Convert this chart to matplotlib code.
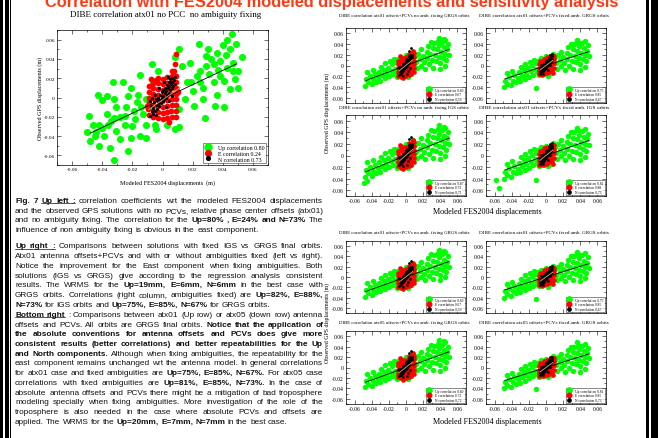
import matplotlib
matplotlib.use("Agg")
import matplotlib.pyplot as plt
from matplotlib.patches import Rectangle
from matplotlib.lines import Line2D
from matplotlib.ticker import MultipleLocator
import numpy as np

plt.rcParams['axes.unicode_minus'] = False

W, H = 658, 439
SERIF = 'Liberation Serif'
SANS = 'Liberation Sans'
GREEN, RED, TAN = '#00ff00', '#ff0000', '#c8b27a'

TICKS = [-0.06, -0.04, -0.02, 0, 0.02, 0.04, 0.06]
TICK_LABELS = ['-0.06', '-0.04', '-0.02', '0', '0.02', '0.04', '0.06']

# ---- main panel (atx01, no PCC, no ambiguity fixing) ----
MAIN_UP = [(0.046, 0.066), (0.043, 0.060), (0.040, 0.054), (0.045, 0.050), (0.049, 0.055), (0.024, 0.055),
           (0.030, 0.050), (0.036, 0.046), (0.038, 0.038), (0.053, 0.042), (0.034, 0.035), (0.029, 0.033),
           (0.025, 0.028), (0.043, 0.031), (0.047, 0.036), (0.050, 0.028), (0.048, 0.019), (0.045, 0.009),
           (0.050, 0.010), (0.038, 0.022), (0.034, 0.016), (0.027, 0.010), (0.020, 0.007), (0.023, 0.022),
           (0.018, 0.036), (0.013, 0.033), (0.016, 0.016), (0.021, -0.009), (0.035, -0.009), (0.041, -0.010),
           (0.028, -0.021), (0.027, -0.002), (0.036, 0.003), (0.011, 0.050), (0.008, 0.042), (0.029, 0.043),
           (0.041, 0.017), (0.015, -0.002), (0.009, 0.009), (0.011, -0.012), (0.011, -0.031), (0.019, 0.016),
           (0.025, 0.016), (0.037, 0.029), (0.031, 0.024), (0.047, 0.028), (0.032, 0.040), (0.042, 0.044),
           (-0.007, 0.035), (-0.015, 0.023), (-0.026, 0.016), (-0.033, 0.016), (-0.021, 0.010), (-0.043, 0.003),
           (-0.037, 0.002), (-0.040, -0.003), (-0.032, -0.002), (-0.023, 0.002), (-0.016, 0.003), (-0.031, -0.010),
           (-0.024, -0.010), (-0.017, -0.005), (-0.011, -0.002), (-0.037, -0.017), (-0.032, -0.021), (-0.025, -0.019),
           (-0.042, -0.029), (-0.036, -0.029), (-0.044, -0.036), (-0.039, -0.040), (-0.031, -0.035), (-0.025, -0.028),
           (-0.018, -0.022), (-0.013, -0.017), (-0.005, -0.028), (-0.011, -0.029), (-0.048, -0.045), (-0.042, -0.050),
           (-0.035, -0.052), (-0.032, -0.065), (-0.023, -0.055), (-0.028, -0.043), (-0.021, -0.042), (-0.015, -0.040),
           (-0.011, -0.042), (-0.050, -0.036), (-0.046, -0.028), (-0.004, -0.033), (0.003, -0.028), (0.008, -0.033),
           (-0.049, -0.019), (-0.019, -0.014), (-0.007, -0.010), (-0.006, 0.016), (-0.003, 0.028), (-0.045, -0.040),
           (-0.040, -0.032), (-0.034, -0.024), (-0.028, -0.020), (-0.020, -0.030), (-0.014, -0.010)]
MAIN_E = [(-0.009, -0.018), (-0.0095, -0.012), (-0.009, -0.006), (-0.0092, 0.000), (-0.0088, 0.006), (-0.009, 0.012),
          (-0.006, -0.020), (-0.0062, -0.014), (-0.006, -0.008), (-0.0058, -0.002), (-0.006, 0.004), (-0.0061, 0.010),
          (-0.006, 0.015), (-0.0075, 0.019), (-0.003, -0.021), (-0.0031, -0.015), (-0.003, -0.009), (-0.0028, -0.003),
          (-0.003, 0.003), (-0.0032, 0.009), (-0.003, 0.015), (-0.0029, 0.020), (0.000, -0.022), (0.0002, -0.016),
          (0.000, -0.010), (-0.0001, -0.004), (0.000, 0.002), (0.0001, 0.008), (0.000, 0.014), (0.0002, 0.019),
          (0.003, -0.021), (0.0031, -0.015), (0.003, -0.009), (0.0029, -0.003), (0.003, 0.003), (0.0032, 0.009),
          (0.003, 0.015), (0.0031, 0.021), (0.006, -0.020), (0.0059, -0.014), (0.006, -0.008), (0.0061, -0.002),
          (0.006, 0.004), (0.0058, 0.010), (0.006, 0.016), (0.0062, 0.022), (0.006, 0.027), (0.009, -0.020),
          (0.0091, -0.014), (0.009, -0.008), (0.0089, -0.002), (0.009, 0.004), (0.0092, 0.010), (0.009, 0.016),
          (0.0088, 0.022), (0.008, 0.035), (0.009, 0.045), (-0.0102, -0.009), (0.0102, 0.006), (0.0045, -0.025),
          (-0.0045, 0.018), (0.0075, 0.028)]
MAIN_N = [(-0.008, -0.019), (-0.007, -0.014), (-0.0075, -0.009), (-0.006, -0.017), (-0.006, -0.011), (-0.0055, -0.005),
          (-0.005, -0.014), (-0.0045, -0.008), (-0.004, -0.002), (-0.0035, -0.012), (-0.003, -0.006), (-0.003, 0.000),
          (-0.002, -0.009), (-0.002, -0.003), (-0.0015, 0.003), (-0.001, -0.006), (-0.0005, 0.000), (-0.0005, 0.006),
          (0.000, -0.004), (0.0005, 0.002), (0.0005, 0.008), (0.001, -0.002), (0.0015, 0.005), (0.0015, 0.010),
          (0.002, 0.000), (0.0025, 0.007), (0.003, 0.013), (0.003, 0.003), (0.0035, 0.010), (0.004, 0.016),
          (0.004, 0.005), (0.0045, 0.012), (0.005, 0.019), (0.005, 0.008), (0.0055, 0.014), (0.006, 0.020),
          (0.006, 0.010), (0.0065, 0.016), (0.007, 0.012), (0.0075, 0.018), (0.008, 0.014), (0.008, 0.021),
          (-0.0085, -0.004), (-0.007, -0.001), (-0.005, 0.003), (0.002, -0.010), (0.004, -0.004), (0.006, 0.002),
          (0.0035, 0.021), (-0.002, 0.010), (-0.004, -0.018), (0.001, 0.016)]
MAIN_LABELS = ['Up correlation 0.80', 'E correlation 0.24', 'N correlation 0.73']
# regression lines: (x start, x end, slope, intercept, colour)
MAIN_FITS = [(-0.048, 0.049, 0.74, -0.0015, 'black'), (-0.009, 0.012, 1.1, -0.0025, TAN)]

# ---- small panels, no ambiguity fixing ----
NOFIX_UP = [(-0.048, -0.038), (-0.047, -0.025), (-0.044, -0.031), (-0.042, -0.020), (-0.040, -0.035), (-0.038, -0.026),
            (-0.036, -0.016), (-0.035, -0.030), (-0.033, -0.022), (-0.031, -0.012), (-0.030, -0.028), (-0.028, -0.018),
            (-0.026, -0.008), (-0.025, -0.024), (-0.023, -0.014), (-0.021, -0.004), (-0.020, -0.020), (-0.018, -0.010),
            (-0.016, 0.002), (-0.015, -0.016), (-0.013, -0.006), (-0.012, 0.006), (-0.011, -0.022), (-0.010, -0.012),
            (-0.009, 0.012), (-0.045, -0.012), (-0.039, -0.008), (-0.029, -0.002), (-0.024, 0.004), (-0.019, 0.008),
            (-0.014, 0.012), (0.010, 0.018), (0.012, 0.006), (0.013, -0.004), (0.014, 0.022), (0.016, 0.012),
            (0.017, 0.000), (0.018, 0.030), (0.020, 0.018), (0.021, 0.006), (0.022, -0.006), (0.024, 0.026),
            (0.025, 0.014), (0.026, 0.036), (0.027, 0.002), (0.028, 0.022), (0.030, 0.010), (0.031, 0.032),
            (0.032, -0.004), (0.033, 0.042), (0.034, 0.020), (0.035, 0.008), (0.036, 0.030), (0.037, 0.046),
            (0.038, 0.016), (0.039, 0.038), (0.040, 0.004), (0.041, 0.026), (0.042, 0.044), (0.043, 0.014),
            (0.044, 0.034), (0.045, 0.022), (0.046, 0.048), (0.047, 0.010), (0.048, 0.030), (0.049, 0.040),
            (0.050, 0.020), (0.029, 0.044), (0.038, 0.052), (0.044, 0.050), (0.040, -0.006), (0.046, 0.000),
            (-0.008, -0.020), (0.008, 0.026), (-0.006, 0.016), (0.006, -0.016), (0.000, 0.020), (0.002, -0.022)]
NOFIX_E = [(-0.009, -0.019), (-0.0095, -0.012), (-0.009, -0.005), (-0.0092, 0.002), (-0.0088, 0.008),
           (-0.006, -0.021), (-0.0062, -0.014), (-0.006, -0.007), (-0.0058, 0.000), (-0.006, 0.007), (-0.0061, 0.013),
           (-0.003, -0.021), (-0.0031, -0.014), (-0.003, -0.007), (-0.0028, 0.000), (-0.003, 0.007), (-0.0032, 0.014),
           (0.000, -0.020), (0.0002, -0.013), (0.000, -0.006), (-0.0001, 0.001), (0.000, 0.008), (0.0001, 0.015),
           (0.003, -0.018), (0.0031, -0.011), (0.003, -0.004), (0.0029, 0.003), (0.003, 0.010), (0.0032, 0.017),
           (0.006, -0.016), (0.0059, -0.009), (0.006, -0.002), (0.0061, 0.005), (0.006, 0.012), (0.0058, 0.019),
           (0.009, -0.012), (0.0091, -0.005), (0.009, 0.002), (0.0089, 0.009), (0.009, 0.016), (0.0092, 0.023),
           (0.0085, 0.027), (0.0065, 0.024), (-0.0065, 0.018), (0.0035, 0.022), (-0.0035, -0.024)]
NOFIX_N = [(-0.008, -0.017), (-0.007, -0.012), (-0.0075, -0.007), (-0.006, -0.015), (-0.006, -0.009), (-0.0055, -0.003),
           (-0.005, -0.012), (-0.0045, -0.006), (-0.004, 0.000), (-0.0035, -0.010), (-0.003, -0.004), (-0.003, 0.002),
           (-0.002, -0.007), (-0.002, -0.001), (-0.0015, 0.005), (-0.001, -0.004), (-0.0005, 0.002), (-0.0005, 0.008),
           (0.000, -0.002), (0.0005, 0.004), (0.0005, 0.010), (0.001, 0.000), (0.0015, 0.007), (0.0015, 0.012),
           (0.002, 0.002), (0.0025, 0.009), (0.003, 0.015), (0.003, 0.005), (0.0035, 0.012), (0.004, 0.018),
           (0.004, 0.007), (0.0045, 0.014), (0.005, 0.020), (0.005, 0.010), (0.0055, 0.016), (0.006, 0.012),
           (0.0065, 0.018), (0.007, 0.014), (0.0075, 0.020), (-0.0085, -0.002), (0.002, -0.010), (0.0045, -0.004),
           (0.004, 0.028), (0.006, 0.032), (-0.004, -0.019), (0.001, -0.016)]
NOFIX_FITS = [(-0.047, 0.050, 0.60, 0.0, 'black'), (-0.008, 0.008, 1.3, 0.0005, TAN)]

# ---- small panels, fixed ambiguities ----
FIX_UP = [(-0.049, -0.040), (-0.048, -0.028), (-0.045, -0.034), (-0.043, -0.022), (-0.041, -0.037), (-0.039, -0.028),
          (-0.037, -0.018), (-0.035, -0.031), (-0.033, -0.023), (-0.031, -0.013), (-0.030, -0.029), (-0.028, -0.019),
          (-0.026, -0.008), (-0.025, -0.025), (-0.023, -0.015), (-0.021, -0.004), (-0.020, -0.021), (-0.018, -0.011),
          (-0.016, 0.001), (-0.015, -0.017), (-0.013, -0.006), (-0.012, 0.005), (-0.012, -0.042), (-0.010, -0.013),
          (-0.009, 0.009), (-0.046, -0.014), (-0.040, -0.010), (-0.029, -0.003), (-0.024, 0.003), (-0.019, 0.007),
          (-0.014, 0.011), (0.010, 0.015), (0.012, 0.004), (0.013, -0.006), (0.014, 0.020), (0.016, 0.010),
          (0.017, -0.001), (0.018, 0.026), (0.020, 0.016), (0.021, 0.004), (0.022, -0.008), (0.024, 0.024),
          (0.025, 0.012), (0.026, 0.034), (0.027, 0.000), (0.028, 0.020), (0.030, 0.008), (0.031, 0.030),
          (0.032, -0.006), (0.033, 0.040), (0.034, 0.018), (0.035, 0.006), (0.036, 0.028), (0.037, 0.044),
          (0.038, 0.014), (0.039, 0.036), (0.040, 0.002), (0.041, 0.024), (0.042, 0.042), (0.043, 0.012),
          (0.044, 0.032), (0.045, 0.020), (0.046, 0.046), (0.047, 0.008), (0.048, 0.028), (0.049, 0.038),
          (0.050, 0.018), (0.029, 0.040), (0.036, 0.048), (0.040, -0.008), (0.046, -0.002),
          (-0.008, -0.018), (0.008, 0.022), (-0.006, 0.014), (0.006, -0.014), (0.000, 0.017), (0.002, -0.019)]
FIX_E = [(-0.008, -0.016), (-0.0085, -0.010), (-0.008, -0.004), (-0.0082, 0.002),
         (-0.005, -0.017), (-0.0052, -0.011), (-0.005, -0.005), (-0.0048, 0.001), (-0.005, 0.007),
         (-0.002, -0.016), (-0.0021, -0.010), (-0.002, -0.004), (-0.0018, 0.002), (-0.002, 0.008), (-0.0022, 0.013),
         (0.001, -0.014), (0.0012, -0.008), (0.001, -0.002), (0.0009, 0.004), (0.001, 0.010), (0.0011, 0.015),
         (0.004, -0.012), (0.0041, -0.006), (0.004, 0.000), (0.0039, 0.006), (0.004, 0.012), (0.0042, 0.017),
         (0.007, -0.010), (0.0069, -0.004), (0.007, 0.002), (0.0071, 0.008), (0.007, 0.014), (0.0068, 0.019),
         (0.009, 0.004), (0.0092, 0.012), (0.009, 0.018), (0.008, -0.014), (-0.007, 0.008), (0.0095, -0.005)]
FIX_N = [(-0.007, -0.015), (-0.0065, -0.010), (-0.007, -0.005), (-0.0055, -0.013), (-0.005, -0.008), (-0.005, -0.002),
         (-0.004, -0.011), (-0.0035, -0.005), (-0.0035, 0.001), (-0.0025, -0.009), (-0.002, -0.003), (-0.002, 0.003),
         (-0.001, -0.006), (-0.001, 0.000), (-0.0005, 0.006), (0.000, -0.004), (0.0005, 0.002), (0.0005, 0.008),
         (0.001, -0.001), (0.0015, 0.005), (0.0015, 0.010), (0.002, 0.001), (0.0025, 0.007), (0.003, 0.012),
         (0.003, 0.003), (0.0035, 0.009), (0.004, 0.014), (0.0045, 0.006), (0.005, 0.011), (0.0055, 0.016),
         (0.006, 0.008), (0.0065, 0.013), (0.007, 0.017), (-0.006, 0.001), (0.002, -0.008), (0.005, 0.001),
         (0.005, 0.020), (0.0065, 0.021), (-0.003, -0.015)]
FIX_FITS = [(-0.048, 0.050, 0.52, 0.0, 'black'), (-0.007, 0.008, 1.2, 0.0, TAN)]

IGS_NOFIX_EXTRA = [(-0.049, -0.048), (-0.045, -0.044)]
IGS_FIX_EXTRA = [(-0.058, -0.043), (-0.055, -0.057)]

SMALL_TITLES = [
    'DIBE correlation atx01 offsets+PCVs no amb. fixing GRGS orbits',
    'DIBE correlation atx01 offsets+PCVs fixed amb. GRGS orbits',
    'DIBE correlation atx01 offsets+PCVs no amb. fixing IGS orbits',
    'DIBE correlation atx01 offsets+PCVs fixed amb. IGS orbits',
    'DIBE correlation atx05 offsets+PCVs no amb. fixing GRGS orbits',
    'DIBE correlation atx05 offsets+PCVs fixed amb. GRGS orbits',
]
SMALL_LABELS = [
    ['Up correlation 0.80', 'E correlation 0.67', 'N correlation 0.59'],
    ['Up correlation 0.75', 'E correlation 0.85', 'N correlation 0.67'],
    ['Up correlation 0.87', 'E correlation 0.73', 'N correlation 0.71'],
    ['Up correlation 0.82', 'E correlation 0.88', 'N correlation 0.73'],
    ['Up correlation 0.80', 'E correlation 0.72', 'N correlation 0.72'],
    ['Up correlation 0.81', 'E correlation 0.85', 'N correlation 0.73'],
]

TITLE = 'Correlation with FES2004 modeled displacements and sensitivity analysis'

CAPTION = [
    ['**Fig. 7**  __Up left :__ correlation coefficients wrt the modeled FES2004 displacements',
     'and the observed GPS solutions with no PCVs, relative phase center offsets (atx01)',
     'and no ambiguity fixing. The correlation for the **Up=80% , E=24% and N=73%** The',
     'influence of non ambiguity fixing is obvious in the east component.'],
    ['__Up right :__ Comparisons between solutions with fixed IGS vs GRGS final orbits.',
     'Atx01 antenna offsets+PCVs and with or without ambiguities fixed (left vs right).',
     'Notice the improvement for the East component when fixing ambiguities. Both',
     'solutions (IGS vs GRGS) give according to the regression analysis consistent',
     'results. The WRMS for the **Up=19mm, E=6mm, N=6mm** in the best case with',
     'GRGS orbits. Correlations (right column, ambiguities fixed) are **Up=82%, E=88%,**',
     '**N=73%** for IGS orbits and **Up=75%, E=85%, N=67%** for GRGS orbits.'],
    ['__Bottom right__ : Comparisons between atx01 (Up row) or atx05 (down row) antenna',
     'offsets and PCVs. All orbits are GRGS final orbits. **Notice that the application of**',
     '**the absolute conventions for antenna offsets and PCVs does give more**',
     '**consistent results (better correlations) and better repeatabilities for the Up**',
     '**and North components.** Although when fixing ambiguities, the repeatability for the',
     'east component remains unchanged wrt the antenna model. In general correlations',
     'for atx01 case and fixed ambiguities are **Up=75%, E=85%, N=67%.** For atx05 case',
     'correlations with fixed ambiguities are **Up=81%, E=85%, N=73%.** In the case of',
     'absolute antenna offsets and PCVs there might be a mitigation of bad troposphere',
     'modeling specially when fixing ambiguities. More investigation of the role of the',
     'troposphere is also needed in the case where absolute PCVs and offsets are',
     'applied. The WRMS for the **Up=20mm, E=7mm, N=7mm** in the best case.'],
]

# ------------------------------------------------------------------
fig = plt.figure(figsize=(W / 100, H / 100), dpi=100)
bg = fig.add_axes([0, 0, 1, 1])
bg.set_xlim(0, W)
bg.set_ylim(H, 0)
bg.axis('off')
rend = fig.canvas.get_renderer()


def rect(x0, y0, x1, y1):
    return [x0 / W, 1 - y1 / H, (x1 - x0) / W, (y1 - y0) / H]


def fit_text(x, y, s, width, size0=5, rotation=0, **kw):
    # size the text so that its (unrotated) length is `width` pixels
    t = bg.text(x, y, s, fontsize=size0, **kw)
    w = t.get_window_extent(rend).width
    t.set_fontsize(size0 * width / w)
    t.set_rotation(rotation)
    return t


# page frame
for x0, x1 in [(0, 3), (4.5, 8.5), (9.5, 11), (646, 649), (651, 658)]:
    bg.add_patch(Rectangle((x0, 0), x1 - x0, H, color='black', lw=0))

fit_text(332, 6.5, TITLE, 578, 10, family=SANS, fontweight='bold', color='#ff3a12',
         ha='center', va='baseline')


def style_axes(ax, fs, xlabels=True):
    ax.set_xlim(-0.07, 0.07)
    ax.set_ylim(-0.07, 0.07)
    ax.set_xticks(TICKS)
    ax.set_yticks(TICKS)
    ax.xaxis.set_minor_locator(MultipleLocator(0.01))
    ax.yaxis.set_minor_locator(MultipleLocator(0.01))
    ax.set_xticklabels(TICK_LABELS if xlabels else [], fontsize=fs, family=SERIF)
    ax.set_yticklabels(TICK_LABELS, fontsize=fs, family=SERIF)
    ax.tick_params(which='both', direction='in', top=True, right=True, width=0.4, pad=1.5)
    ax.tick_params(which='major', length=2.6)
    ax.tick_params(which='minor', length=1.4)
    for sp in ax.spines.values():
        sp.set_linewidth(0.5)


def draw_panel(r, up, e, n, fits, labels, sizes, fs, lfs, xlabels=True):
    ax = fig.add_axes(rect(*r))
    style_axes(ax, fs, xlabels)
    su, se, sn = sizes
    ux, uy = np.array(up).T
    ex, ey = np.array(e).T
    nx, ny = np.array(n).T
    ax.scatter(ux, uy, s=su, c=GREEN, lw=0, zorder=2)
    ax.scatter(ex, ey, s=se, c=RED, lw=0, zorder=3)
    ax.scatter(nx, ny, s=sn, c='black', lw=0, zorder=4)
    for xa, xb, m, b, col in fits:
        xs = np.array([xa, xb])
        ax.plot(xs, m * xs + b, color=col, lw=0.6, zorder=5)
    handles = [Line2D([], [], ls='', marker='o', color=GREEN, ms=np.sqrt(su)),
               Line2D([], [], ls='', marker='o', color=RED, ms=np.sqrt(se)),
               Line2D([], [], ls='', marker='o', color='black', ms=np.sqrt(sn) * 1.2)]
    leg = ax.legend(handles, labels, loc='lower right', frameon=True, fancybox=False,
                    edgecolor='black', borderpad=0.3, labelspacing=0.15, handlelength=1.0,
                    handletextpad=1.2, borderaxespad=0.3, prop={'family': SERIF, 'size': lfs})
    leg.get_frame().set_linewidth(0.4)
    leg.set_zorder(10)
    return ax


# main panel
fit_text(166, 15, 'DIBE correlation atx01 no PCC  no ambiguity fixing', 193, 7,
         family=SERIF, ha='center', va='center')
draw_panel((57, 31, 268, 166), MAIN_UP, MAIN_E, MAIN_N, MAIN_FITS, MAIN_LABELS,
           (26, 17, 5), 3.9, 4.2)
fit_text(167, 183, 'Modeled FES2004 displacements  (m)', 95, 4.5, family=SERIF, ha='center', va='center')
fit_text(40, 98, 'Observed GPS displacements (m)', 83, 4.5, rotation=90, family=SERIF,
         ha='center', va='center')

# right-hand groups
COLS = [(346, 466), (486, 606)]
GROUPS = [
    {'rows': [(29, 104, 16), (116, 197, 108)], 'xl': 212, 'yl': 113, 'panels': [[0, 1], [2, 3]]},
    {'rows': [(242, 314, 233), (332, 405, 323)], 'xl': 422, 'yl': 323, 'panels': [[0, 1], [4, 5]]},
]
for g in GROUPS:
    for ri, (y0, y1, ty) in enumerate(g['rows']):
        for ci, (x0, x1) in enumerate(COLS):
            idx = g['panels'][ri][ci]
            fixed = ci == 1
            up = FIX_UP if fixed else NOFIX_UP
            if idx == 2:
                up = up + IGS_NOFIX_EXTRA
            if idx == 3:
                up = up + IGS_FIX_EXTRA
            e = FIX_E if fixed else NOFIX_E
            n = FIX_N if fixed else NOFIX_N
            fits = FIX_FITS if fixed else NOFIX_FITS
            draw_panel((x0, y0, x1, y1), up, e, n, fits, SMALL_LABELS[idx], (15, 11, 4),
                       4.1, 2.6, xlabels=(ri == 1))
            fit_text((x0 + x1) / 2 - 2, ty, SMALL_TITLES[idx], 130, 3.4, family=SERIF,
                     ha='center', va='center')
    fit_text(487, g['xl'], 'Modeled FES2004 displacements', 110, 5, family=SERIF,
             ha='center', va='center')
    fit_text(327.5, g['yl'], 'Observed GPS displacements (m)', 80, 4.3, rotation=90, family=SERIF,
             ha='center', va='center')


# justified caption text
def parse(line):
    words = []
    bold = und = False
    for raw in line.split(' '):
        if not raw:
            continue
        w = raw
        if w.startswith('__'):
            und = bold = True
            w = w[2:]
        if w.startswith('**'):
            bold = True
            w = w[2:]
        end_u = w.endswith('__')
        if end_u:
            w = w[:-2]
        end_b = w.endswith('**')
        if end_b:
            w = w[:-2]
        words.append((w, bold, und))
        if end_u:
            und = bold = False
        if end_b:
            bold = False
    return words


X0, X1 = 15, 323
LINE_STEP = 9.72
PARA_TOP = [200.7, 246.2, 314.6]


def word_width(w, b, fs):
    t = bg.text(0, 0, w, fontsize=fs, family=SANS, fontweight='bold' if b else 'normal')
    wd = t.get_window_extent(rend).width
    t.remove()
    return wd


def space_width(fs):
    return word_width('x x', False, fs) - word_width('xx', False, fs)


# pick the font size so that the longest line just fits the column
FS0 = 5.5
sp0 = space_width(FS0)
longest = 0
for para in CAPTION:
    for line in para:
        ws = parse(line)
        longest = max(longest, sum(word_width(w, b, FS0) for w, b, u in ws) + sp0 * (len(ws) - 1))
FS = FS0 * (X1 - X0) / longest * 0.995
sp_w = space_width(FS)

for para, ytop in zip(CAPTION, PARA_TOP):
    for li, line in enumerate(para):
        yb = ytop + li * LINE_STEP + 2.2
        words = parse(line)
        arts, widths = [], []
        for w, b, u in words:
            t = bg.text(0, yb, w, fontsize=FS, family=SANS, fontweight='bold' if b else 'normal',
                        ha='left', va='baseline', color='#111111')
            arts.append(t)
            widths.append(t.get_window_extent(rend).width)
        last = li == len(para) - 1
        if last or len(words) < 2:
            gap = sp_w
        else:
            gap = (X1 - X0 - sum(widths)) / (len(words) - 1)
        x = X0
        for k, (t, wd, (w, b, u)) in enumerate(zip(arts, widths, words)):
            t.set_x(x)
            if u:
                ext = gap if (k + 1 < len(words) and words[k + 1][2]) else 0
                bg.plot([x, x + wd + ext], [yb + 1.2, yb + 1.2], color='#111111', lw=0.5)
            x += wd + gap

fig.savefig('out.png', dpi=100, facecolor='white')
